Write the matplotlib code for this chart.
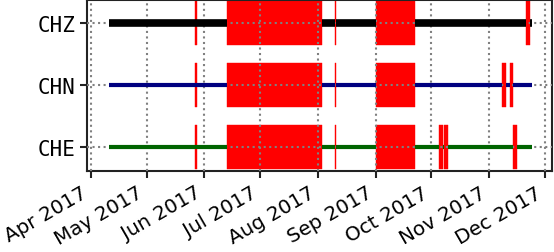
import matplotlib
matplotlib.use("Agg")
import matplotlib.pyplot as plt
import matplotlib.dates as mdates
import matplotlib.transforms as mtransforms
import datetime as dt

stations = ["CHE", "CHN", "CHZ"]
line_colors = ["darkgreen", "navy", "black"]
line_widths = [3, 3, 5.5]
data_start = ["2017-04-11", "2017-04-11", "2017-04-11"]
data_end = ["2017-11-24", "2017-11-24", "2017-11-24"]

# short marks (drawn beneath the data line)
common_marks = [("2017-05-27", "2017-05-28")]
# gaps in the data (line is broken there)
common_gaps = [("2017-06-13", "2017-08-03"), ("2017-08-10", "2017-08-11"),
               ("2017-09-01", "2017-09-22")]
extra_gaps = {
    "CHE": [("2017-10-05", "2017-10-07"), ("2017-10-08", "2017-10-10"),
            ("2017-11-14", "2017-11-16")],
    "CHN": [("2017-11-08", "2017-11-10"), ("2017-11-12", "2017-11-14")],
    "CHZ": [("2017-11-21", "2017-11-23")],
}

def d(s):
    return mdates.date2num(dt.datetime.strptime(s, "%Y-%m-%d"))

fig, ax = plt.subplots(figsize=(5.54, 2.53), dpi=100)
fig.subplots_adjust(left=0.157, right=0.997, top=0.996, bottom=0.32)

for i, st in enumerate(stations):
    gaps = sorted(common_gaps + extra_gaps[st], key=lambda g: d(g[0]))
    start = d(data_start[i])
    for a, b in gaps:
        ax.plot([start, d(a)], [i, i], color=line_colors[i], lw=line_widths[i],
                solid_capstyle="butt", zorder=3)
        start = d(b)
    ax.plot([start, d(data_end[i])], [i, i], color=line_colors[i], lw=line_widths[i],
            solid_capstyle="butt", zorder=3)
    for a, b in gaps + common_marks:
        ax.broken_barh([(d(a), d(b) - d(a))], (i - 0.35, 0.7), facecolors="red",
                       edgecolors="red", linewidth=0.3, zorder=1)

ax.set_yticks(range(len(stations)))
ax.set_yticklabels(stations, family="DejaVu Sans Mono", fontsize=15)
ax.set_ylim(-0.39, 2.37)
ax.set_xlim(d("2017-03-30"), d("2017-12-05"))
ax.xaxis.set_major_locator(mdates.MonthLocator())
ax.xaxis.set_major_formatter(mdates.DateFormatter("%b %Y"))
shift = mtransforms.ScaledTranslation(-0.05, 0, fig.dpi_scale_trans)
for lab in ax.get_xticklabels():
    lab.set_rotation(30)
    lab.set_ha("right")
    lab.set_fontsize(14.3)
    lab.set_transform(lab.get_transform() + shift)
ax.grid(True, linestyle=":", color="gray", lw=1.5)
ax.set_axisbelow(False)
for gl in ax.get_xgridlines() + ax.get_ygridlines():
    gl.set_zorder(2)
for sp in ax.spines.values():
    sp.set_linewidth(1.5)
    sp.set_color("#222222")
ax.tick_params(width=1.5, length=5, color="#222222")

fig.savefig("out.png", dpi=100)
